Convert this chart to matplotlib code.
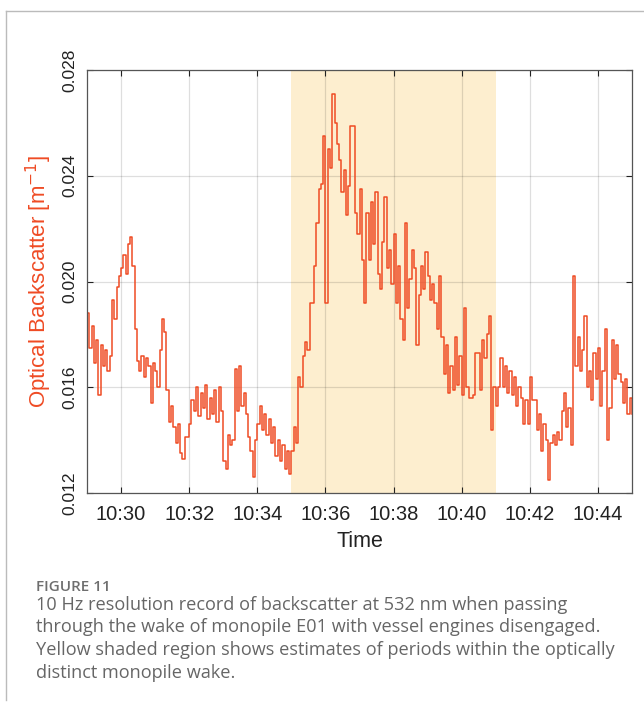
import numpy as np
import matplotlib
matplotlib.use("Agg")
import matplotlib.pyplot as plt
import matplotlib.dates as mdates
from matplotlib.lines import Line2D

# backscatter, one value every 4 s from 10:29:00 (units 1e-3 m^-1)
bs_1029 = [18.8, 17.5, 18.3, 16.9, 17.8, 15.7, 17.6, 16.8, 17.4, 16.6, 17.2, 19.3, 18.6, 19.8, 20.2]
bs_1030 = [20.5, 21.0, 20.3, 21.4, 21.7, 20.6, 18.2, 17.0, 16.6, 17.2, 16.4, 17.1, 16.8, 15.4, 16.9]
bs_1031 = [16.6, 16.0, 17.4, 18.6, 18.1, 15.9, 14.7, 15.3, 14.5, 13.9, 14.6, 13.5, 13.3, 14.1, 14.1]
bs_1032 = [14.6, 15.5, 15.1, 16.0, 14.9, 15.8, 15.2, 16.1, 14.8, 15.6, 15.0, 15.9, 14.7, 16.0, 15.1]
bs_1033 = [13.2, 12.9, 14.2, 13.8, 14.0, 16.7, 15.1, 16.8, 15.3, 15.8, 15.0, 14.1, 13.6, 12.6, 14.0]
bs_1034 = [14.6, 15.3, 14.4, 15.0, 14.2, 14.8, 13.9, 14.5, 13.4, 14.0, 13.2, 13.8, 12.9, 13.6, 12.7]
bs_1035 = [13.6, 14.5, 13.9, 16.4, 16.0, 17.2, 17.7, 17.4, 19.2, 19.2, 20.6, 22.2, 23.5, 23.7, 25.5]
bs_1036 = [19.2, 25.0, 24.3, 27.1, 26.0, 25.2, 24.6, 23.4, 24.2, 22.5, 23.6, 25.9, 25.9, 22.6, 21.8]
bs_1037 = [23.5, 20.8, 19.2, 22.6, 20.8, 23.0, 21.4, 23.4, 20.3, 19.7, 21.5, 23.2, 20.5, 21.2, 19.9]
bs_1038 = [21.8, 19.2, 20.6, 18.6, 17.8, 22.2, 19.0, 20.1, 21.2, 20.5, 17.6, 19.5, 20.6, 19.7, 21.1]
bs_1039 = [20.2, 19.3, 19.9, 19.2, 18.2, 20.2, 17.9, 16.5, 17.6, 15.8, 16.8, 15.9, 17.9, 16.1, 17.2]
bs_1040 = [15.7, 19.0, 16.0, 15.6, 15.6, 15.7, 17.3, 17.3, 15.9, 17.8, 17.1, 18.0, 18.7, 14.4, 16.0]
bs_1041 = [15.3, 16.0, 17.1, 16.0, 16.8, 15.8, 16.6, 15.7, 16.4, 15.3, 16.0, 15.6, 14.6, 15.5, 14.6]
bs_1042 = [16.4, 15.5, 15.5, 14.4, 15.0, 13.6, 14.6, 14.0, 12.5, 13.9, 14.2, 13.8, 14.3, 14.0, 15.1]
bs_1043 = [15.8, 14.5, 15.2, 13.8, 20.2, 16.8, 17.9, 16.6, 17.4, 18.7, 16.0, 16.6, 15.5, 17.3, 16.3]
bs_1044 = [17.5, 15.3, 16.6, 18.2, 14.0, 15.2, 17.8, 16.3, 17.6, 16.5, 16.2, 15.4, 16.3, 15.0, 15.6, 15.0]

start = np.datetime64("2021-01-01T10:29:00")
step_s = 4
wake_start = np.datetime64("2021-01-01T10:35:00")
wake_end = np.datetime64("2021-01-01T10:41:00")

backscatter = np.array(bs_1029 + bs_1030 + bs_1031 + bs_1032 + bs_1033 + bs_1034 + bs_1035 + bs_1036
                       + bs_1037 + bs_1038 + bs_1039 + bs_1040 + bs_1041 + bs_1042 + bs_1043 + bs_1044) * 1e-3
times = start + np.arange(len(backscatter)) * np.timedelta64(step_s, "s")

red = "#ef4b24"

fig = plt.figure(figsize=(6.44, 7.11), dpi=100)
ax = fig.add_axes([87 / 644, 1 - 493 / 711, 545 / 644, 423 / 711])

ax.axvspan(wake_start, wake_end, color="#fdeecf", lw=0)
ax.plot(times, backscatter, color=red, lw=1.1, drawstyle="steps-post")

ax.set_xlim(np.datetime64("2021-01-01T10:29:00"), np.datetime64("2021-01-01T10:45:00"))
ax.set_ylim(0.012, 0.028)
ax.set_yticks([0.012, 0.016, 0.020, 0.024, 0.028])
ax.set_yticklabels(["0.012", "0.016", "0.020", "0.024", "0.028"], rotation=90, va="center")
ax.xaxis.set_major_locator(mdates.MinuteLocator(byminute=range(30, 46, 2)))
ax.xaxis.set_major_formatter(mdates.DateFormatter("%H:%M"))

ax.grid(True, color="k", alpha=0.13, lw=0.9)
ax.tick_params(direction="in", length=4, top=True, right=True,
               colors="#222222", width=0.8)
ax.tick_params(axis="x", labelsize=14.5, pad=9)
ax.tick_params(axis="y", labelsize=12.5, pad=7)
for s in ax.spines.values():
    s.set_color("#555555")
    s.set_linewidth(0.9)
for lab in ax.get_xticklabels() + ax.get_yticklabels():
    lab.set_fontfamily("Liberation Sans")

ax.set_xlabel("Time", fontsize=15.5, family="Liberation Sans", color="#222222", labelpad=5)
ax.set_ylabel("Optical Backscatter [m$^{-1}$]", fontsize=16, family="Liberation Sans",
              color=red, labelpad=6)

# page frame and caption
fig.add_artist(Line2D([6 / 644, 1], [1 - 11 / 711, 1 - 11 / 711], color="#bbbbbb", lw=1))
fig.add_artist(Line2D([6 / 644, 6 / 644], [1 - 11 / 711, 1 - 700 / 711], color="#bbbbbb", lw=1))

fig.text(36 / 644, 1 - 587 / 711, "FIGURE 11", fontsize=11, color="#6e6e6e",
         family="Open Sans", fontweight="semibold", va="center")
caption = ["10 Hz resolution record of backscatter at 532 nm when passing",
           "through the wake of monopile E01 with vessel engines disengaged.",
           "Yellow shaded region shows estimates of periods within the optically",
           "distinct monopile wake."]
for i, line in enumerate(caption):
    fig.text(36 / 644, 1 - (605 + 22.5 * i) / 711, line, fontsize=13.1, color="#666666",
             family="Open Sans", va="center")

fig.savefig("out.png", dpi=100)
